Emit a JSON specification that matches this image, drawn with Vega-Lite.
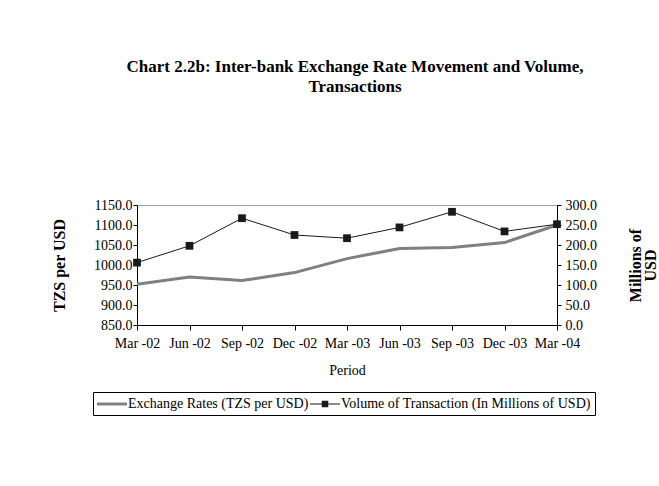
{
  "$schema": "https://vega.github.io/schema/vega-lite/v6.json",
  "autosize": {"type": "none"},
  "padding": {"left": 137, "top": 205, "right": 102, "bottom": 161},
  "width": 420,
  "height": 120,
  "background": "white",
  "title": {
    "text": ["Chart 2.2b: Inter-bank Exchange Rate Movement and Volume,", "Transactions"],
    "font": "Liberation Serif",
    "fontSize": 17,
    "fontWeight": "bold",
    "lineHeight": 20,
    "color": "black",
    "anchor": "middle",
    "offset": 102,
    "dx": 8
  },
  "config": {
    "view": {"stroke": "#a0a0a0", "strokeWidth": 1},
    "axis": {
      "labelFont": "Liberation Serif",
      "labelFontSize": 14,
      "labelColor": "black",
      "titleFont": "Liberation Serif",
      "titleColor": "black",
      "domainColor": "black",
      "tickColor": "black",
      "grid": false
    }
  },
  "data": {
    "values": [
      {"period": "Mar -02", "rate": 952, "volume": 156},
      {"period": "Jun -02", "rate": 970, "volume": 198},
      {"period": "Sep -02", "rate": 961, "volume": 267},
      {"period": "Dec -02", "rate": 981, "volume": 225},
      {"period": "Mar -03", "rate": 1016, "volume": 217},
      {"period": "Jun -03", "rate": 1041, "volume": 244},
      {"period": "Sep -03", "rate": 1044, "volume": 283},
      {"period": "Dec -03", "rate": 1056, "volume": 234},
      {"period": "Mar -04", "rate": 1100, "volume": 252}
    ]
  },
  "encoding": {
    "x": {
      "field": "period",
      "type": "ordinal",
      "sort": null,
      "scale": {"type": "point", "padding": 0},
      "axis": {
        "title": "Period",
        "titleFontSize": 14,
        "titleFontWeight": "normal",
        "titlePadding": 13,
        "labelAngle": 0,
        "labelPadding": 6,
        "tickSize": 5,
        "domainWidth": 1.2
      }
    }
  },
  "layer": [
    {
      "mark": {"type": "line", "strokeWidth": 3},
      "encoding": {
        "y": {
          "field": "rate",
          "type": "quantitative",
          "scale": {"domain": [850, 1150], "zero": false, "nice": false},
          "axis": {
            "title": "TZS per USD",
            "titleFontSize": 16,
            "titleFontWeight": "bold",
            "titlePadding": 26,
            "values": [850, 900, 950, 1000, 1050, 1100, 1150],
            "format": ".1f",
            "tickSize": 4,
            "labelPadding": 1
          }
        },
        "color": {
          "datum": "Exchange Rates (TZS per USD)",
          "scale": {
            "domain": ["Exchange Rates (TZS per USD)", "Volume of Transaction (In Millions of USD)"],
            "range": ["#808080", "#1a1a1a"]
          },
          "legend": {
            "title": null,
            "orient": "none",
            "legendX": -44,
            "legendY": 187,
            "direction": "horizontal",
            "padding": 4,
            "strokeColor": "black",
            "labelFont": "Liberation Serif",
            "labelFontSize": 14,
            "labelColor": "black",
            "labelLimit": 0,
            "symbolSize": 256,
            "symbolStrokeWidth": 0,
            "labelOffset": 15,
            "columnPadding": 1,
            "encode": {
              "symbols": {
                "update": {
                  "shape": {"signal": "datum.value == 'Volume of Transaction (In Millions of USD)' ? 'M-1,-0.0625H2.75V0.0625H-1ZM0.465,-0.41H1.285V0.41H0.465Z' : 'M-1,-0.1875H2.75V0.1875H-1Z'"},
                  "fill": {"signal": "datum.value == 'Volume of Transaction (In Millions of USD)' ? '#1a1a1a' : '#808080'"},
                  "fillOpacity": {"value": 1}
                }
              }
            }
          }
        }
      }
    },
    {
      "mark": {"type": "line", "strokeWidth": 1, "point": {"shape": "square", "size": 60, "filled": true, "color": "#1a1a1a"}},
      "encoding": {
        "y": {
          "field": "volume",
          "type": "quantitative",
          "scale": {"domain": [0, 300], "nice": false},
          "axis": {
            "orient": "right",
            "title": ["Millions of", "USD"],
            "titleFontSize": 16,
            "titleLineHeight": 15,
            "titleFontWeight": "bold",
            "titleAngle": 270,
            "titlePadding": 32,
            "values": [0, 50, 100, 150, 200, 250, 300],
            "format": ".1f",
            "tickSize": 4,
            "labelPadding": 4
          }
        },
        "color": {"datum": "Volume of Transaction (In Millions of USD)"}
      }
    }
  ],
  "resolve": {"scale": {"y": "independent"}}
}
